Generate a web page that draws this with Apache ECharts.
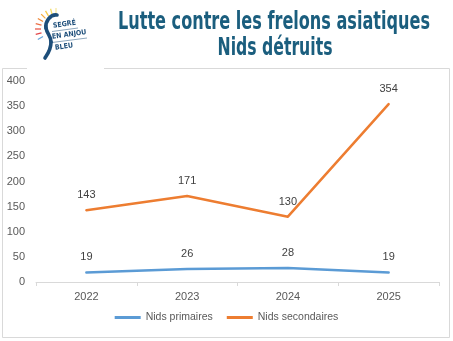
<!DOCTYPE html>
<html>
<head>
<meta charset="utf-8">
<script src="https://cdn.jsdelivr.net/npm/echarts@6/dist/echarts.min.js"></script>
<style>
  html, body { margin: 0; padding: 0; background: #fff; }
  #chart { width: 453px; height: 341px; }
</style>
</head>
<body>
<div id="chart"></div>
<script>
// Nests destroyed per year
const years = ['2022', '2023', '2024', '2025'];
const nidsPrimaires = [19, 26, 28, 19];
const nidsSecondaires = [143, 171, 130, 354];
const seriesNames = ['Nids primaires', 'Nids secondaires'];
const titleLines = ['Lutte contre les frelons asiatiques', 'Nids détruits'];

const titleFont = 'bold 25px "DejaVu Sans Condensed", "Liberation Sans Narrow", sans-serif';

// squeeze title text horizontally to a condensed look
function fitScale(text, targetWidth) {
  const ctx = document.createElement('canvas').getContext('2d');
  ctx.font = titleFont;
  return targetWidth / ctx.measureText(text).width;
}
const s1 = fitScale(titleLines[0], 312);
const s2 = fitScale(titleLines[1], 115);

const navy = '#1d4e7a';
const rayColors = ['#6aa6dc', '#e2474b', '#e85a4c', '#ec6f45', '#f08a3c', '#f5a93a', '#f7c948', '#f3dd6a', '#f6e8a0'];
const rays = rayColors.map((c, i) => {
  const a = (210 - i * 15) * Math.PI / 180;
  const cx = 56, cy = 29, r1 = 15, r2 = 21;
  return {
    type: 'line',
    shape: { x1: cx + r1 * Math.cos(a), y1: cy - r1 * Math.sin(a), x2: cx + r2 * Math.cos(a), y2: cy - r2 * Math.sin(a) },
    style: { stroke: c, lineWidth: 1.3 },
    z: 12
  };
});
const curveStyle = { fill: 'none', stroke: navy, lineWidth: 3.6, lineCap: 'round' };
const logoFont = 'bold 7px "DejaVu Sans Condensed", sans-serif';

const labelStyle = { show: true, position: 'top', distance: 9, color: '#404040', fontSize: 11 };

const chart = echarts.init(document.getElementById('chart'));
chart.setOption({
  animation: false,
  backgroundColor: '#fff',
  textStyle: { fontFamily: '"Liberation Sans", Arial, sans-serif' },
  grid: { left: 36, right: 14, top: 81, bottom: 59, containLabel: false },
  xAxis: {
    type: 'category',
    data: years,
    boundaryGap: true,
    axisLine: { lineStyle: { color: '#d9d9d9', width: 1 } },
    axisTick: { show: true, length: 4, lineStyle: { color: '#d9d9d9' } },
    axisLabel: { color: '#595959', fontSize: 11, margin: 9 }
  },
  yAxis: {
    type: 'value',
    min: 0, max: 400, interval: 50,
    axisLine: { show: false },
    axisTick: { show: false },
    splitLine: { show: false },
    axisLabel: { color: '#595959', fontSize: 11, margin: 11 }
  },
  legend: {
    bottom: 13,
    left: 'center',
    icon: 'rect',
    itemWidth: 26,
    itemHeight: 3,
    itemGap: 14,
    textStyle: { color: '#595959', fontSize: 10.5 },
    data: seriesNames
  },
  series: [
    {
      name: seriesNames[0], type: 'line', data: nidsPrimaires,
      symbol: 'circle', symbolSize: 1, color: '#5b9bd5',
      lineStyle: { width: 2.5, cap: 'round', join: 'round' },
      label: labelStyle
    },
    {
      name: seriesNames[1], type: 'line', data: nidsSecondaires,
      symbol: 'circle', symbolSize: 1, color: '#ed7d31',
      lineStyle: { width: 2.5, cap: 'round', join: 'round' },
      label: labelStyle
    }
  ],
  graphic: [
    // outer frame
    { type: 'rect', shape: { x: 2.5, y: 68.5, width: 447, height: 269 }, style: { fill: 'none', stroke: '#d9d9d9', lineWidth: 1 }, z: 1 },
    // logo backing
    { type: 'rect', shape: { x: 27, y: 0, width: 77, height: 70 }, style: { fill: '#fff' }, z: 10 },
    ...rays,
    // logo S curve
    { type: 'bezierCurve', shape: { x1: 57, y1: 15, cpx1: 50, cpy1: 14, cpx2: 45, cpy2: 22, x2: 46, y2: 28 }, style: curveStyle, z: 12 },
    { type: 'bezierCurve', shape: { x1: 46, y1: 28, cpx1: 47, cpy1: 34, cpx2: 51, cpy2: 36, x2: 51, y2: 42 }, style: curveStyle, z: 12 },
    { type: 'bezierCurve', shape: { x1: 51, y1: 42, cpx1: 51, cpy1: 50, cpx2: 47, cpy2: 55, x2: 45, y2: 58 }, style: curveStyle, z: 12 },
    { type: 'text', x: 53, y: 26, rotation: 8 * Math.PI / 180, style: { text: 'SEGRÉ', font: logoFont, fill: navy, verticalAlign: 'middle' }, z: 12 },
    { type: 'text', x: 52, y: 37, rotation: 8 * Math.PI / 180, style: { text: 'EN ANJOU', font: logoFont, fill: navy, verticalAlign: 'middle' }, z: 12 },
    { type: 'text', x: 55, y: 48, rotation: 8 * Math.PI / 180, style: { text: 'BLEU', font: logoFont, fill: navy, verticalAlign: 'middle' }, z: 12 },
    { type: 'line', shape: { x1: 52, y1: 31.5, x2: 78, y2: 28 }, style: { stroke: navy, lineWidth: 0.5 }, z: 12 },
    { type: 'line', shape: { x1: 52, y1: 42.5, x2: 87, y2: 38 }, style: { stroke: navy, lineWidth: 0.5 }, z: 12 },
    // title
    { type: 'text', x: 274, y: 22, scaleX: s1, originX: 0, originY: 0,
      style: { text: titleLines[0], font: titleFont, fill: '#1b5e7e', align: 'center', verticalAlign: 'middle' }, z: 12 },
    { type: 'text', x: 275, y: 48, scaleX: s2, originX: 0, originY: 0,
      style: { text: titleLines[1], font: titleFont, fill: '#1b5e7e', align: 'center', verticalAlign: 'middle' }, z: 12 }
  ]
});
</script>
</body>
</html>
